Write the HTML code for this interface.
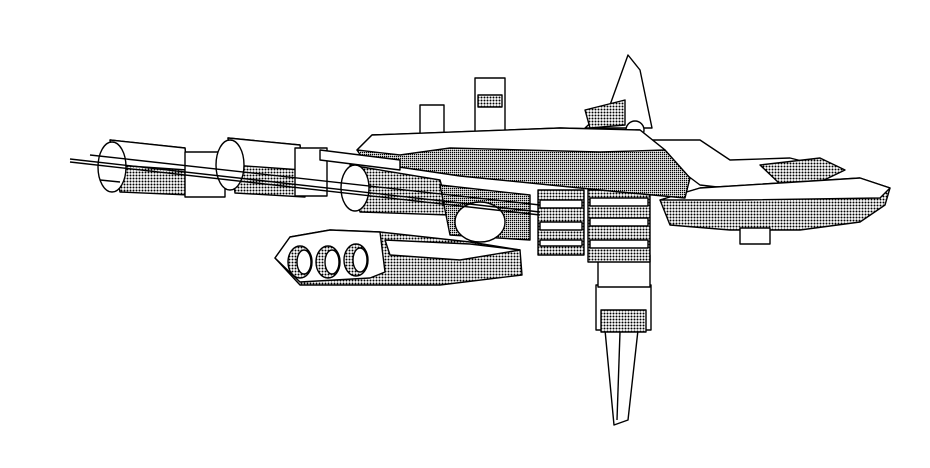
<!DOCTYPE html>
<html><head><style>html,body{margin:0;padding:0;background:#fff;width:930px;height:468px;overflow:hidden}</style></head>
<body>
<svg width="930" height="468" viewBox="0 0 930 468" xmlns="http://www.w3.org/2000/svg">
<defs>
<pattern id="h" width="3" height="3" patternUnits="userSpaceOnUse"><rect width="3" height="3" fill="#fff"/><circle cx="1.5" cy="1.5" r="1" fill="#000"/></pattern>
<pattern id="d" width="2" height="2" patternUnits="userSpaceOnUse"><rect width="2" height="2" fill="#fff"/><rect width="1.3" height="1.3" fill="#000"/></pattern>
</defs>
<g stroke="#000" stroke-width="1.4" fill="#fff" stroke-linejoin="round">
<polygon points="605,330 638,330 628,420 614,425" />
<line x1="620" y1="332" x2="617" y2="420"/>
<rect x="596" y="285" width="55" height="45"/>
<rect x="601" y="310" width="45" height="22" fill="url(#h)"/>
<rect x="598" y="255" width="52" height="32"/>
<rect x="538" y="190" width="46" height="65" fill="url(#h)"/>
<rect x="588" y="190" width="62" height="72" fill="url(#h)"/>
<g fill="#fff"><rect x="540" y="200" width="42" height="8"/><rect x="540" y="222" width="42" height="8"/><rect x="540" y="240" width="42" height="6"/>
<rect x="590" y="198" width="58" height="8"/><rect x="590" y="218" width="58" height="8"/><rect x="590" y="240" width="58" height="8"/></g>
<polygon points="640,140 700,140 730,160 790,158 830,168 810,185 760,192 700,185" fill="#fff"/>
<polygon points="760,165 820,158 845,170 820,182 780,184" fill="url(#h)"/>
<polygon points="660,200 700,188 860,178 890,188 885,205 860,222 800,230 730,230 670,225" fill="url(#h)"/>
<polygon points="660,200 700,188 860,178 890,188 880,198 740,200" fill="#fff"/>
<rect x="740" y="228" width="30" height="16"/>
<polygon points="628,55 640,70 652,128 585,128 610,105" />
<circle cx="635" cy="130" r="9"/>
<polygon points="585,110 625,100 625,125 590,128" fill="url(#h)"/>
<rect x="475" y="78" width="30" height="55"/>
<rect x="478" y="95" width="24" height="12" fill="url(#h)"/>
<rect x="420" y="105" width="24" height="30"/>
<polygon points="357,150 372,135 560,128 640,130 665,150 690,178 685,198 620,192 460,176 365,162" fill="url(#d)"/>
<polygon points="357,150 372,135 560,128 640,130 665,150 600,152 450,148 400,155" fill="#fff"/>
<polygon points="110,140 185,148 190,195 120,192" fill="url(#h)"/>
<polygon points="110,140 185,148 187,170 115,165" fill="#fff"/>
<ellipse cx="112" cy="167" rx="14" ry="25"/>
<rect x="185" y="152" width="40" height="45"/>
<polygon points="228,138 300,145 305,197 235,193" fill="url(#h)"/>
<polygon points="228,138 300,145 302,170 232,165" fill="#fff"/>
<ellipse cx="230" cy="165" rx="14" ry="25"/>
<rect x="295" y="148" width="32" height="48"/>
<polygon points="350,165 440,180 450,215 360,212" fill="url(#h)"/>
<ellipse cx="355" cy="188" rx="14" ry="23"/>
<polygon points="320,150 400,160 400,170 320,160"/>
<polygon points="440,185 530,195 530,240 450,235" fill="url(#d)"/>
<ellipse cx="480" cy="222" rx="25" ry="20"/>
<line x1="70" y1="162" x2="540" y2="215"/>
<line x1="70" y1="159" x2="540" y2="212"/>
<line x1="90" y1="155" x2="540" y2="205"/>
<line x1="100" y1="180" x2="120" y2="182"/>
<polygon points="275,258 290,237 330,230 380,232 470,242 520,250 522,275 440,285 300,285" fill="url(#h)"/>
<polygon points="275,258 290,237 330,230 380,232 385,272 370,278 300,282"/>
<g fill="url(#h)"><ellipse cx="300" cy="262" rx="12" ry="16"/><ellipse cx="328" cy="262" rx="12" ry="16"/><ellipse cx="356" cy="260" rx="12" ry="16"/></g>
<g fill="#fff"><ellipse cx="304" cy="262" rx="7" ry="12"/><ellipse cx="332" cy="262" rx="7" ry="12"/><ellipse cx="360" cy="260" rx="7" ry="12"/></g>
<polygon points="385,240 470,244 520,250 460,260 390,255" fill="#fff"/>
</g>
</svg>
</body></html>
